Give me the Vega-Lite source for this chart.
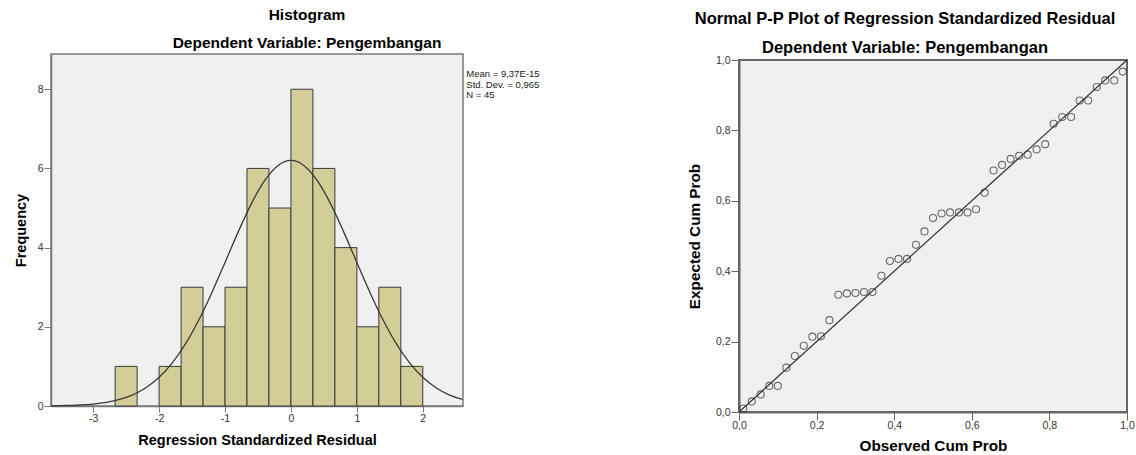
{
  "$schema": "https://vega.github.io/schema/vega-lite/v6.json",
  "padding": {"left": 12, "top": 6, "right": 5, "bottom": 0},
  "background": "#ffffff",
  "bounds": "flush",
  "spacing": 276,
  "config": {
    "font": "Liberation Sans",
    "view": {"stroke": null},
    "axis": {"grid": false, "labelFont": "Liberation Sans", "titleFont": "Liberation Sans", "labelColor": "#333333", "titleColor": "#000000", "titleFontWeight": "bold", "labelFontSize": 10.5},
    "title": {"font": "Liberation Sans", "subtitleFont": "Liberation Sans"}
  },
  "datasets": {
    "bins": [
      {"bin_start": -2.6667, "bin_end": -2.3333, "count": 1},
      {"bin_start": -2.0, "bin_end": -1.6667, "count": 1},
      {"bin_start": -1.6667, "bin_end": -1.3333, "count": 3},
      {"bin_start": -1.3333, "bin_end": -1.0, "count": 2},
      {"bin_start": -1.0, "bin_end": -0.6667, "count": 3},
      {"bin_start": -0.6667, "bin_end": -0.3333, "count": 6},
      {"bin_start": -0.3333, "bin_end": 0.0, "count": 5},
      {"bin_start": 0.0, "bin_end": 0.3333, "count": 8},
      {"bin_start": 0.3333, "bin_end": 0.6667, "count": 6},
      {"bin_start": 0.6667, "bin_end": 1.0, "count": 4},
      {"bin_start": 1.0, "bin_end": 1.3333, "count": 2},
      {"bin_start": 1.3333, "bin_end": 1.6667, "count": 3},
      {"bin_start": 1.6667, "bin_end": 2.0, "count": 1}
    ],
    "curve": [
      {"x": -3.64, "y": 0.005}, {"x": -3.4, "y": 0.0125}, {"x": -3.2, "y": 0.0254}, {"x": -3.0, "y": 0.0494},
      {"x": -2.8, "y": 0.0921}, {"x": -2.6, "y": 0.1645}, {"x": -2.4, "y": 0.2814}, {"x": -2.2, "y": 0.461},
      {"x": -2.0, "y": 0.724}, {"x": -1.8, "y": 1.0886}, {"x": -1.6, "y": 1.5686}, {"x": -1.4, "y": 2.165},
      {"x": -1.2, "y": 2.862}, {"x": -1.0, "y": 3.625}, {"x": -0.8, "y": 4.398}, {"x": -0.6, "y": 5.111},
      {"x": -0.4, "y": 5.691}, {"x": -0.2, "y": 6.069}, {"x": 0.0, "y": 6.201}, {"x": 0.2, "y": 6.069},
      {"x": 0.4, "y": 5.691}, {"x": 0.6, "y": 5.111}, {"x": 0.8, "y": 4.398}, {"x": 1.0, "y": 3.625},
      {"x": 1.2, "y": 2.862}, {"x": 1.4, "y": 2.165}, {"x": 1.6, "y": 1.5686}, {"x": 1.8, "y": 1.0886},
      {"x": 2.0, "y": 0.724}, {"x": 2.2, "y": 0.461}, {"x": 2.4, "y": 0.2814}, {"x": 2.6, "y": 0.1645}
    ],
    "stats": [
      {"x": 2.66, "y": 8.5, "label": "Mean = 9,37E-15\nStd. Dev. = 0,965\nN = 45"}
    ],
    "pp": [
      {"observed": 0.011, "expected": 0.010}, {"observed": 0.033, "expected": 0.030}, {"observed": 0.056, "expected": 0.050},
      {"observed": 0.078, "expected": 0.074}, {"observed": 0.100, "expected": 0.074}, {"observed": 0.122, "expected": 0.126},
      {"observed": 0.144, "expected": 0.159}, {"observed": 0.167, "expected": 0.188}, {"observed": 0.189, "expected": 0.214},
      {"observed": 0.211, "expected": 0.215}, {"observed": 0.233, "expected": 0.261}, {"observed": 0.256, "expected": 0.333},
      {"observed": 0.278, "expected": 0.337}, {"observed": 0.300, "expected": 0.338}, {"observed": 0.322, "expected": 0.341},
      {"observed": 0.344, "expected": 0.341}, {"observed": 0.367, "expected": 0.387}, {"observed": 0.389, "expected": 0.429},
      {"observed": 0.411, "expected": 0.435}, {"observed": 0.433, "expected": 0.435}, {"observed": 0.456, "expected": 0.475},
      {"observed": 0.478, "expected": 0.513}, {"observed": 0.500, "expected": 0.551}, {"observed": 0.522, "expected": 0.564},
      {"observed": 0.544, "expected": 0.567}, {"observed": 0.567, "expected": 0.567}, {"observed": 0.589, "expected": 0.567},
      {"observed": 0.611, "expected": 0.576}, {"observed": 0.633, "expected": 0.623}, {"observed": 0.656, "expected": 0.686},
      {"observed": 0.678, "expected": 0.702}, {"observed": 0.700, "expected": 0.719}, {"observed": 0.722, "expected": 0.728},
      {"observed": 0.744, "expected": 0.731}, {"observed": 0.767, "expected": 0.746}, {"observed": 0.789, "expected": 0.761},
      {"observed": 0.811, "expected": 0.819}, {"observed": 0.833, "expected": 0.838}, {"observed": 0.856, "expected": 0.838},
      {"observed": 0.878, "expected": 0.885}, {"observed": 0.900, "expected": 0.885}, {"observed": 0.922, "expected": 0.923},
      {"observed": 0.944, "expected": 0.942}, {"observed": 0.967, "expected": 0.942}, {"observed": 0.989, "expected": 0.967}
    ],
    "diag": [
      {"observed": 0, "expected": 0}, {"observed": 1, "expected": 1}
    ]
  },
  "hconcat": [
    {
      "width": 412,
      "height": 352,
      "view": {"fill": "#F0F0F0", "stroke": "#7a7a7a", "strokeWidth": 1.5},
      "title": {"text": "Histogram", "subtitle": "Dependent Variable: Pengembangan", "fontSize": 15.5, "subtitleFontSize": 15.5, "fontWeight": "bold", "subtitleFontWeight": "bold", "color": "#000000", "subtitleColor": "#000000", "anchor": "middle", "dx": 50, "offset": 3, "subtitlePadding": 12.5},
      "layer": [
        {
          "data": {"name": "bins"},
          "mark": {"type": "rect", "fill": "#D3CE97", "stroke": "#3a3a3a", "strokeWidth": 1},
          "encoding": {
            "x": {"field": "bin_start", "type": "quantitative", "scale": {"domain": [-3.64, 2.61], "nice": false, "zero": false},
                  "axis": {"values": [-3, -2, -1, 0, 1, 2], "labelExpr": "'' + datum.value", "title": "Regression Standardized Residual", "titleFontSize": 14.5, "tickSize": 6, "labelPadding": 1, "titlePadding": 10, "domainColor": "#7a7a7a", "tickColor": "#7a7a7a", "domainWidth": 1.5}},
            "x2": {"field": "bin_end"},
            "y": {"field": "count", "type": "quantitative", "scale": {"domain": [0, 8.89], "nice": false},
                  "axis": {"values": [0, 2, 4, 6, 8], "title": "Frequency", "titleFontSize": 14.5, "tickSize": 7, "labelPadding": 1, "titlePadding": 9, "domainColor": "#7a7a7a", "tickColor": "#7a7a7a", "domainWidth": 1.5}},
            "y2": {"datum": 0}
          }
        },
        {
          "data": {"name": "curve"},
          "mark": {"type": "line", "color": "#3a3a3a", "strokeWidth": 1.3, "interpolate": "monotone"},
          "encoding": {
            "x": {"field": "x", "type": "quantitative"},
            "y": {"field": "y", "type": "quantitative"}
          }
        },
        {
          "data": {"name": "stats"},
          "mark": {"type": "text", "align": "left", "baseline": "top", "fontSize": 9.5, "lineHeight": 10.5, "lineBreak": "\n", "color": "#222222"},
          "encoding": {
            "x": {"field": "x", "type": "quantitative"},
            "y": {"field": "y", "type": "quantitative"},
            "text": {"field": "label"}
          }
        }
      ]
    },
    {
      "bounds": "flush",
      "spacing": 0,
      "vconcat": [
        {
          "width": 388,
          "height": 6,
          "view": {"stroke": null, "fill": null},
          "data": {"values": []},
          "mark": {"type": "text"},
          "encoding": {}
        },
        {
          "width": 388,
          "height": 352,
          "view": {"fill": "#F0F0F0", "stroke": "#666666", "strokeWidth": 2},
          "title": {"text": "Normal P-P Plot of Regression Standardized Residual", "subtitle": "Dependent Variable: Pengembangan", "fontSize": 16.5, "subtitleFontSize": 16.5, "fontWeight": "bold", "subtitleFontWeight": "bold", "color": "#000000", "subtitleColor": "#000000", "anchor": "middle", "dx": -28, "offset": -1, "subtitlePadding": 12.5},
          "layer": [
            {
              "data": {"name": "diag"},
              "mark": {"type": "line", "color": "#333333", "strokeWidth": 1.2},
              "encoding": {
                "x": {"field": "observed", "type": "quantitative", "scale": {"domain": [0, 1], "nice": false},
                      "axis": {"values": [0, 0.2, 0.4, 0.6, 0.8, 1], "labelExpr": "replace(format(datum.value, '.1f'), '.', ',')", "title": "Observed Cum Prob", "titleFontSize": 15.3, "tickSize": 8, "labelPadding": 0, "titlePadding": 8, "domainColor": "#666666", "tickColor": "#666666", "domainWidth": 2, "labelFlush": false}},
                "y": {"field": "expected", "type": "quantitative", "scale": {"domain": [0, 1], "nice": false},
                      "axis": {"values": [0, 0.2, 0.4, 0.6, 0.8, 1], "labelExpr": "replace(format(datum.value, '.1f'), '.', ',')", "title": "Expected Cum Prob", "titleFontSize": 15.3, "tickSize": 8, "labelPadding": 1, "titlePadding": 13, "domainColor": "#666666", "tickColor": "#666666", "domainWidth": 2, "labelFlush": false}}
              }
            },
            {
              "data": {"name": "pp"},
              "mark": {"type": "point", "shape": "circle", "filled": false, "size": 50, "stroke": "#333333", "strokeWidth": 1.1},
              "encoding": {
                "x": {"field": "observed", "type": "quantitative"},
                "y": {"field": "expected", "type": "quantitative"}
              }
            }
          ]
        }
      ]
    }
  ]
}
